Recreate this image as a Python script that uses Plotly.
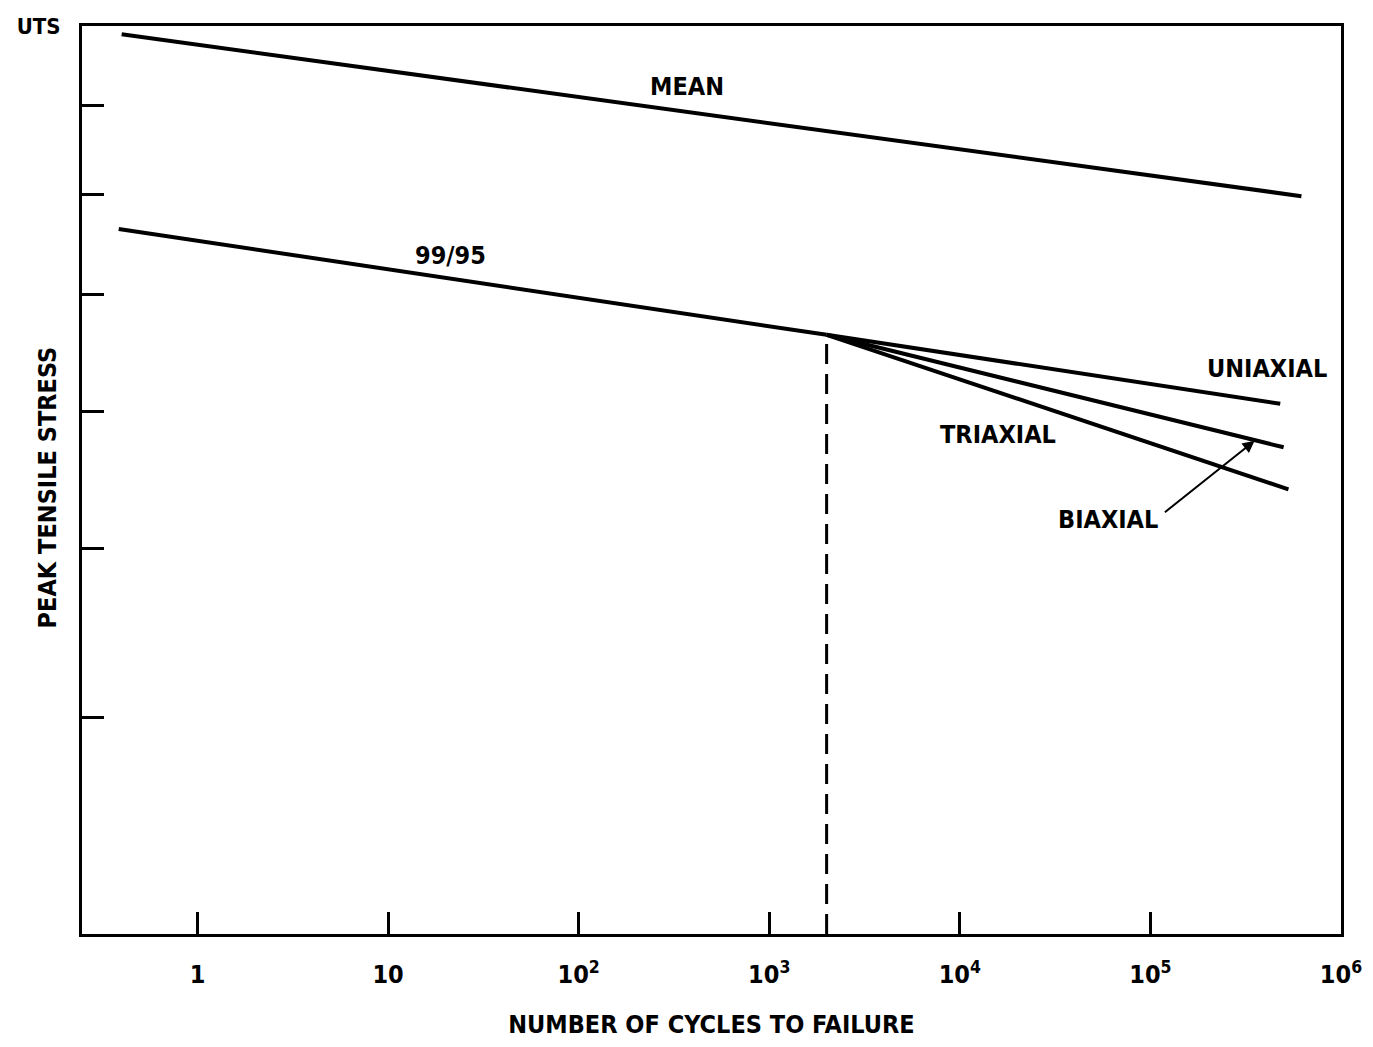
import numpy as np
import plotly.graph_objects as go

# ---- data ----
# y axis: peak tensile stress as % of UTS (log scale), x axis: cycles (log scale)
mean_N = [0.40, 6.2e5]
mean_S = [98.9, 79.8]

n9995_N = [0.386, 2000]
n9995_S = [76.4, 66.4]

uni_N = [2000, 4.8e5]
uni_S = [66.4, 60.6]

bi_N = [2000, 5.0e5]
bi_S = [66.4, 57.2]

tri_N = [2000, 5.3e5]
tri_S = [66.4, 54.1]

split_N = 2000
split_S = 66.4

x_tickvals = [1, 10, 100, 1000, 1e4, 1e5, 1e6]
x_ticktext = ["1", "10", "10<sup>2</sup>", "10<sup>3</sup>", "10<sup>4</sup>",
              "10<sup>5</sup>", "10<sup>6</sup>"]
y_tickvals = [40, 50, 60, 70, 80, 90, 100]
y_ticktext = ["", "", "", "", "", "", "UTS"]

FONT = "DejaVu Sans Condensed, Liberation Sans Narrow, Arial Narrow, sans-serif"
INK = "black"
FS = 25

fig = go.Figure()
line = dict(color=INK, width=4)
for N, S in [(mean_N, mean_S), (n9995_N, n9995_S), (uni_N, uni_S),
             (bi_N, bi_S), (tri_N, tri_S)]:
    fig.add_trace(go.Scatter(x=N, y=S, mode="lines", line=line,
                             hoverinfo="skip", showlegend=False))

# dashed vertical line at split point
fig.add_trace(go.Scatter(x=[split_N, split_N], y=[30, split_S], mode="lines",
                         line=dict(color=INK, width=3, dash="20px,10px"),
                         showlegend=False, hoverinfo="skip"))

lx = np.log10
labels = [
    ("MEAN", 368, 92.3),
    ("99/95", 21.2, 73.8),
    ("UNIAXIAL", 4.07e5, 63.5),
    ("TRIAXIAL", 1.58e4, 58.2),
    ("BIAXIAL", 5.98e4, 51.96),
]
for t, xv, yv in labels:
    fig.add_annotation(x=lx(xv), y=lx(yv), text=t, showarrow=False,
                       font=dict(family=FONT, size=FS, color=INK, weight="bold"))

# arrow from BIAXIAL label to biaxial line
fig.add_annotation(x=lx(3.52e5), y=lx(57.7), ax=lx(1.17e5), ay=lx(52.4),
                   axref="x", ayref="y", xref="x", yref="y", text="",
                   showarrow=True, arrowhead=2, arrowsize=1.2, arrowwidth=2,
                   arrowcolor=INK)

# y-axis title placed as paper annotation
fig.add_annotation(x=-0.0277, y=0.492, xref="paper", yref="paper",
                   xanchor="center", yanchor="middle",
                   text="PEAK TENSILE STRESS", textangle=-90, showarrow=False,
                   font=dict(family=FONT, size=FS, color=INK, weight="bold"))

fig.update_xaxes(type="log", range=[-0.606, 6.0], automargin=False,
                 tickvals=x_tickvals, ticktext=x_ticktext,
                 ticks="inside", ticklen=22, tickwidth=3, tickcolor=INK,
                 showline=True, linewidth=3, linecolor=INK, mirror=True,
                 showgrid=False, zeroline=False, ticklabelstandoff=16,
                 tickfont=dict(family=FONT, size=FS, color=INK, weight="bold"),
                 title=dict(text="NUMBER OF CYCLES TO FAILURE", standoff=28,
                            font=dict(family=FONT, size=FS, color=INK, weight="bold")))
fig.update_yaxes(type="log", range=[np.log10(30), 2.0], automargin=False,
                 tickvals=y_tickvals, ticktext=y_ticktext,
                 ticks="inside", ticklen=22, tickwidth=3, tickcolor=INK,
                 showline=True, linewidth=3, linecolor=INK, mirror=True,
                 showgrid=False, zeroline=False, ticklabelstandoff=14,
                 tickfont=dict(family=FONT, size=22, color=INK, weight="bold"))

fig.update_layout(width=1357, height=1031, margin=dict(l=74, r=24, t=18, b=105),
                  plot_bgcolor="white", paper_bgcolor="white")

fig.write_html("out.html")
